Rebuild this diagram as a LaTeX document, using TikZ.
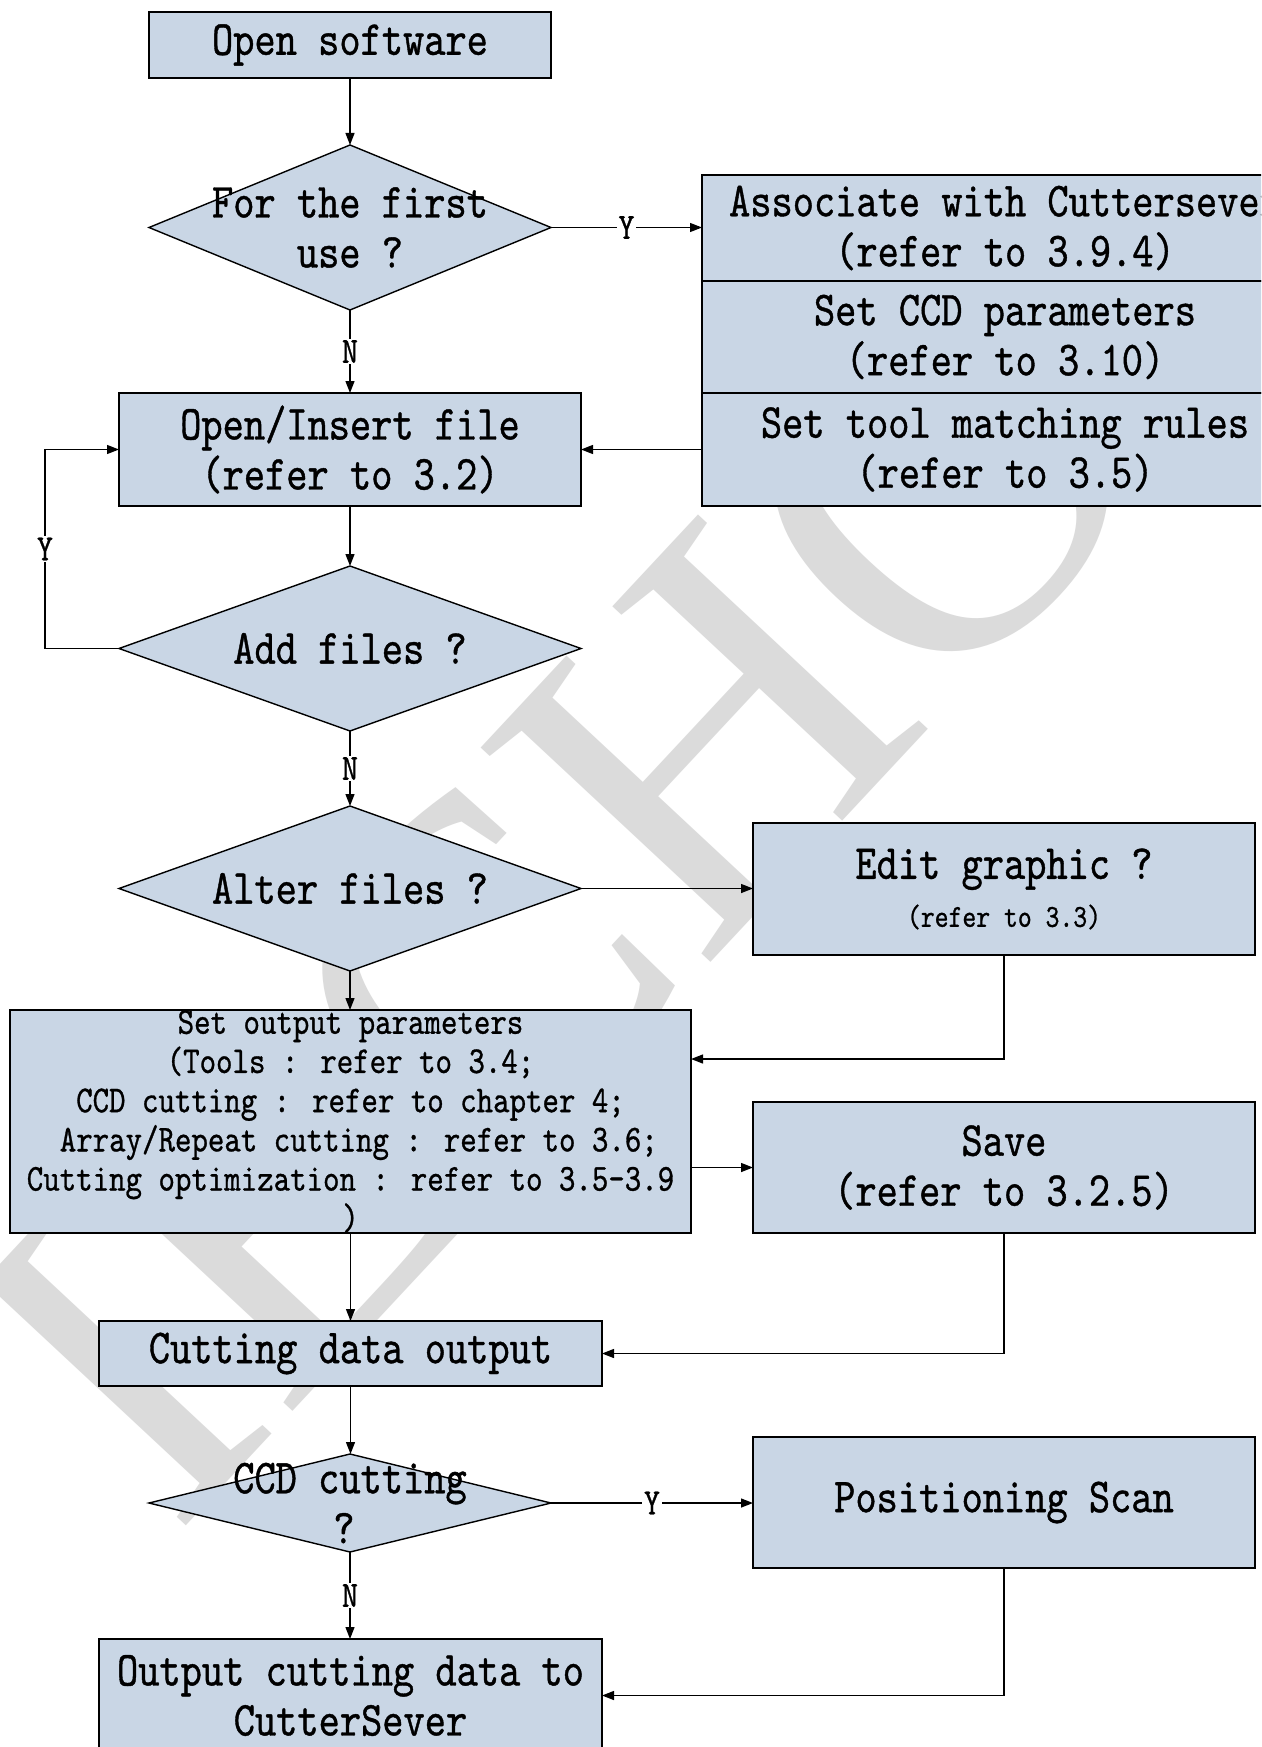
\documentclass[tikz,border=0pt]{standalone}
\usepackage{fontspec}
\setmainfont{Liberation Serif}
\newfontfamily\simfont[FakeStretch=0.825,FakeBold=0.8]{lmmono10-regular.otf}
\newfontfamily\wmfont{Liberation Serif}
\usetikzlibrary{shapes.geometric,arrows.meta}
\definecolor{boxfill}{RGB}{201,214,229}
\definecolor{wmgray}{RGB}{219,219,219}
\newcommand\mainf{\simfont\fontsize{49}{50}\selectfont}
\newcommand\setf{\simfont\fontsize{38}{39.2}\selectfont}
\newcommand\smallf{\simfont\fontsize{32}{36}\selectfont}
\newcommand\lblf{\simfont\fontsize{37}{40}\selectfont}
\newcommand\wmf{\wmfont\fontsize{480}{480}\selectfont}
\begin{document}
\begin{tikzpicture}[x=1pt,y=-1pt,
  box/.style={draw=black, line width=1.4pt, fill=boxfill, rectangle, align=center, inner sep=0pt, outer sep=0pt, font=\mainf},
  dia/.style={draw=black, line width=1.4pt, fill=boxfill, diamond, inner sep=0pt, outer sep=0pt},
  txt/.style={align=center, inner sep=0pt, font=\mainf},
  lbl/.style={fill=white, inner sep=1.5pt, font=\lblf},
  arr/.style={line width=1.3pt, -{Triangle[length=12pt,width=9pt]}}]
\useasboundingbox (0,0) rectangle (1261,1747);
\clip (0,0) rectangle (1261,1747);
\fill[white] (0,0) rectangle (1261,1747);
% watermark
\node[font=\wmf, text=wmgray, rotate=47, inner sep=0pt] (wm) at (560,895) {IECHO};
% shapes
\node[box, minimum width=402pt, minimum height=66pt] (open) at (350,45) {Open software};
\node[dia, minimum width=402pt, minimum height=165pt] (first) at (350,227.5) {};
\node[txt] (firstT) at (first.center) {For the first\\use ?};
\node[box, minimum width=606pt, minimum height=106pt] (assoc) at (1005,228) {Associate with Cuttersever\\(refer to 3.9.4)};
\node[box, minimum width=606pt, minimum height=112pt] (ccdpar) at (1005,337) {Set CCD parameters\\(refer to 3.10)};
\node[box, minimum width=606pt, minimum height=113pt] (toolr) at (1005,449.5) {Set tool matching rules\\(refer to 3.5)};
\node[box, minimum width=462pt, minimum height=113pt] (insert) at (350,449.5) {Open/Insert file\\(refer to 3.2)};
\node[dia, minimum width=462pt, minimum height=165pt] (addf) at (350,648.5) {};
\node[txt] (addfT) at (addf.center) {Add files ?};
\node[dia, minimum width=462pt, minimum height=165pt] (alter) at (350,888.5) {};
\node[txt] (alterT) at (alter.center) {Alter files ?};
\node[box, minimum width=502pt, minimum height=132pt] (edit) at (1004,889) {Edit graphic ?\\[-2pt]{\smallf (refer to 3.3)}};
\node[box, minimum width=681pt, minimum height=223pt] (setout) at (350.5,1121.5) {};
\node[txt, font=\setf] (setoutT) at (setout.center) {Set output parameters\\(Tools : refer to 3.4;\\CCD cutting : refer to chapter 4;\\\hspace*{16.6pt}Array/Repeat cutting : refer to 3.6;\\Cutting optimization : refer to 3.5-3.9\\)};
\node[box, minimum width=502pt, minimum height=131pt] (save) at (1004,1167.5) {Save\\(refer to 3.2.5)};
\node[box, minimum width=503pt, minimum height=65pt] (cdo) at (350.5,1353.5) {Cutting data output};
\node[dia, minimum width=402pt, minimum height=98pt] (ccd) at (350,1503) {};
\node[txt] (ccdT) at (ccd.center) {CCD cutting\\?\hspace*{12pt}};
\node[box, minimum width=502pt, minimum height=131pt] (pos) at (1004,1502.5) {Positioning Scan};
\node[box, minimum width=503pt, minimum height=113pt] (outbox) at (350.5,1695.5) {Output cutting data to\\CutterSever};
% connectors
\draw[arr] (open.south) -- (first.north);
\draw[arr] (first.east) -- node[lbl] (yl1) {Y} (first.east -| assoc.west);
\draw[arr] (first.south) -- node[lbl] (nl1) {N} (insert.north);
\draw[arr] (toolr.west) -- (insert.east);
\draw[arr] (insert.south) -- (addf.north);
\coordinate (lp) at (45,549);
\draw[arr] (addf.west) -| (lp) node[lbl] (yl2) {Y} |- (insert.west);
\draw[arr] (addf.south) -- node[lbl] (nl2) {N} (alter.north);
\draw[arr] (alter.east) -- (alter.east -| edit.west);
\draw[arr] (alter.south) -- (alter.south |- setout.north);
\coordinate (setin) at ([yshift=62.5pt]setout.east);
\draw[arr] (edit.south) |- (setin);
\draw[arr] (setout.east |- save.west) -- (save.west);
\draw[arr] (setout.south) -- (cdo.north);
\draw[arr] (save.south) |- (cdo.east);
\draw[arr] (cdo.south) -- (cdo.south |- ccd.north);
\draw[arr] (ccd.east) -- node[lbl] (yl3) {Y} (ccd.east -| pos.west);
\draw[arr] (ccd.south) -- node[lbl] (nl3) {N} (ccd.south |- outbox.north);
\draw[arr] (pos.south) |- (outbox.east);
\end{tikzpicture}
\end{document}
